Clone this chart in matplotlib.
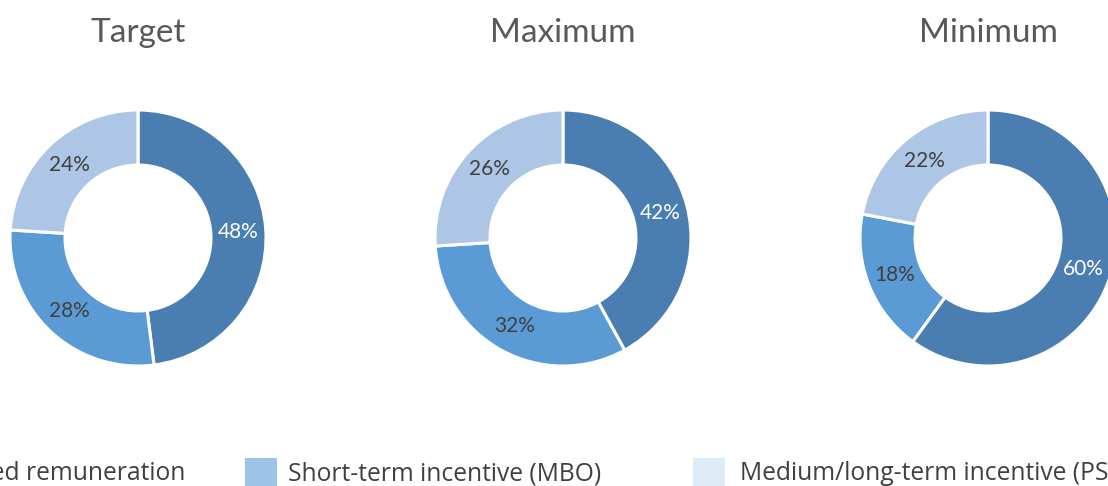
import matplotlib.pyplot as plt
from matplotlib.patches import Rectangle

plt.rcParams['font.family'] = ['Lato', 'DejaVu Sans']

# data
titles = ['Target', 'Maximum', 'Minimum']
components = ['Fixed remuneration', 'Short-term incentive (MBO)', 'Medium/long-term incentive (PSP)']
target = [48, 28, 24]
maximum = [42, 32, 26]
minimum = [60, 18, 22]

pie_colors = ['#4A7EB0', '#5B9BD5', '#ADC6E5']
legend_colors = ['#2E75B6', '#9DC3E6', '#DDEBF7']
label_colors = ['white', '#404040', '#404040']

W, H = 1108, 486
fig = plt.figure(figsize=(W / 100, H / 100), dpi=100)
ax = fig.add_axes([0, 0, 1, 1])

centers_x = [138, 563, 988]
center_y = H - 238
radius = 128
ring = 55

for cx, title, vals in zip(centers_x, titles, [target, maximum, minimum]):
    wedges, texts, autotexts = ax.pie(
        vals, colors=pie_colors, startangle=90, counterclock=False,
        center=(cx, center_y), radius=radius,
        autopct='%.0f%%', pctdistance=(radius - ring / 2) / radius,
        wedgeprops=dict(width=ring, edgecolor='white', linewidth=2.2),
        textprops=dict(fontsize=15))
    for t, c in zip(autotexts, label_colors):
        t.set_color(c)
    ax.text(cx, H - 33, title, ha='center', va='center', fontsize=24,
            color='#595959')

# legend drawn by hand so it can be cut off like the original
# (first entry runs off the left edge, last one off the right edge)
legend_font = dict(fontsize=17.7, color='#404040', family=['Open Sans', 'DejaVu Sans'])
ax.text(185, H - 474, components[0], ha='right', va='center', **legend_font)
ax.text(288, H - 474, components[1], ha='left', va='center', **legend_font)
ax.text(740, H - 474, components[2], ha='left', va='center', **legend_font)
for x0, col in zip([-260, 245, 693], legend_colors):
    ax.add_patch(Rectangle((x0, H - 490), 32, 32, facecolor=col, edgecolor='none'))

ax.set_xlim(0, W)
ax.set_ylim(0, H)
ax.set_aspect('equal')
ax.axis('off')

fig.savefig('out.png', dpi=100)
